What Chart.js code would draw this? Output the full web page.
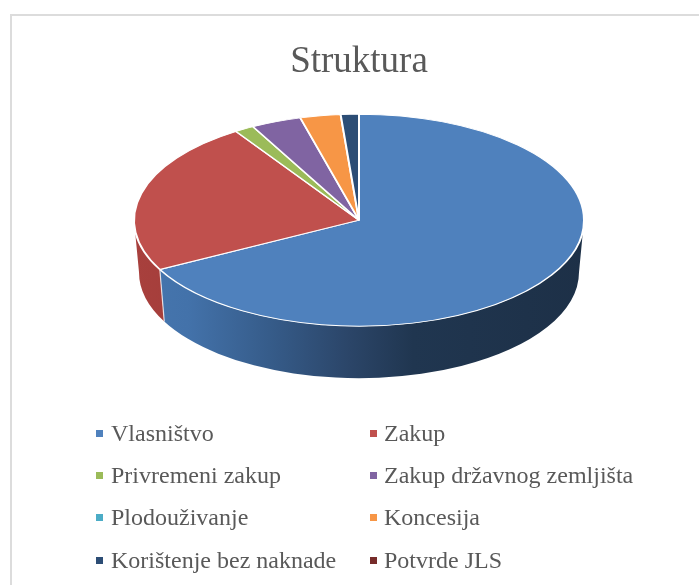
<!DOCTYPE html>
<html>
<head>
<meta charset="utf-8">
<script src="https://cdn.jsdelivr.net/npm/chart.js@4/dist/chart.umd.min.js"></script>
<style>
html,body{margin:0;padding:0;background:#fff;width:699px;height:585px;overflow:hidden}
#frame{position:absolute;left:10px;top:14px;width:689px;height:571px;border-top:2px solid #dcdcdc;border-left:2px solid #dcdcdc;box-sizing:border-box}
canvas{position:absolute;left:0;top:0}
.item{position:absolute;font:24px "Liberation Serif",serif;color:#595959;white-space:nowrap;line-height:24px}
.mark{position:absolute;width:7px;height:7px}
</style>
</head>
<body>
<div id="frame"></div>
<canvas id="c" width="699" height="585"></canvas>
<div id="legend"></div>
<script>
const titleText = "Struktura";
const categories = ["Vlasništvo","Zakup","Privremeni zakup","Zakup državnog zemljišta","Plodouživanje","Koncesija","Korištenje bez naknade","Potvrde JLS"];
const values = [67.3,23.5,1.4,3.6,0,2.9,1.3,0];
const colors = ["#4F81BD","#C0504D","#9BBB59","#8064A2","#4BACC6","#F79646","#2C4D75","#772C2A"];

const SQUASH = 106/225, LOWER_RX = 220, LOWER_RY = 106, DROP = 52;

const pie3d = {
  id: "pie3d",
  beforeDatasetsDraw(chart) {
    const ctx = chart.ctx, arcs = chart.getDatasetMeta(0).data;
    const cx = arcs[0].x, cy = arcs[0].y, R = arcs[0].outerRadius;
    ctx.save();
    const sides = [];
    arcs.forEach((a, i) => {
      const s = Math.max(a.startAngle, 0), e = Math.min(a.endAngle, Math.PI);
      if (e > s) sides.push({s, e, i});
    });
    const blueGrad = ctx.createLinearGradient(cx-R, 0, cx+R, 0);
    blueGrad.addColorStop(0, "#4676ae");
    blueGrad.addColorStop(0.12, "#4372aa");
    blueGrad.addColorStop(0.3, "#365c8a");
    blueGrad.addColorStop(0.48, "#2b4568");
    blueGrad.addColorStop(0.62, "#203650");
    blueGrad.addColorStop(1, "#1d3047");
    const redGrad = ctx.createLinearGradient(cx-R, 0, cx-R+40, 0);
    redGrad.addColorStop(0, "#a8403d");
    redGrad.addColorStop(1, "#a53e3b");
    sides.forEach(({s, e, i}) => {
      ctx.beginPath();
      ctx.ellipse(cx, cy, R, R*SQUASH, 0, s, e, false);
      ctx.ellipse(cx, cy+DROP, LOWER_RX, LOWER_RY, 0, e, s, true);
      ctx.closePath();
      ctx.fillStyle = i === 0 ? blueGrad : (i === 1 ? redGrad : colors[i]);
      ctx.fill();
    });
    sides.forEach(({e}) => {
      if (e >= Math.PI) return;
      ctx.beginPath();
      ctx.moveTo(cx + R*Math.cos(e), cy + R*SQUASH*Math.sin(e));
      ctx.lineTo(cx + LOWER_RX*Math.cos(e), cy + DROP + LOWER_RY*Math.sin(e));
      ctx.strokeStyle = "rgba(255,255,255,0.75)";
      ctx.lineWidth = 1.2;
      ctx.stroke();
    });
    ctx.restore();
    ctx.save();
    ctx.translate(cx, cy);
    ctx.scale(1, SQUASH);
    ctx.translate(-cx, -cy);
  },
  afterDatasetsDraw(chart) { chart.ctx.restore(); }
};

new Chart(document.getElementById("c"), {
  type: "pie",
  data: {
    labels: categories,
    datasets: [{
      data: values,
      backgroundColor: colors,
      borderColor: "#ffffff",
      borderWidth: 2,
      clip: false
    }]
  },
  options: {
    responsive: false,
    animation: false,
    radius: 225,
    layout: { padding: { left: 19, bottom: 229 } },
    plugins: {
      legend: { display: false },
      tooltip: { enabled: false },
      title: {
        display: true,
        text: titleText,
        color: "#595959",
        font: { family: "Liberation Serif", size: 37, weight: "normal", lineHeight: 1.2 },
        padding: { top: 40, bottom: 0 }
      }
    }
  },
  plugins: [pie3d]
});

const colX = [96, 370], rowY = [433, 475, 517, 560], textGap = [15, 14];
const legend = document.getElementById("legend");
categories.forEach((name, i) => {
  const x = colX[i % 2], y = rowY[Math.floor(i / 2)];
  const m = document.createElement("div");
  m.className = "mark";
  m.style.cssText = `left:${x}px;top:${y-3}px;background:${colors[i]}`;
  const t = document.createElement("div");
  t.className = "item";
  t.textContent = name;
  t.style.cssText = `left:${x+textGap[i % 2]}px;top:${y-12}px`;
  legend.appendChild(m);
  legend.appendChild(t);
});
</script>
</body>
</html>
